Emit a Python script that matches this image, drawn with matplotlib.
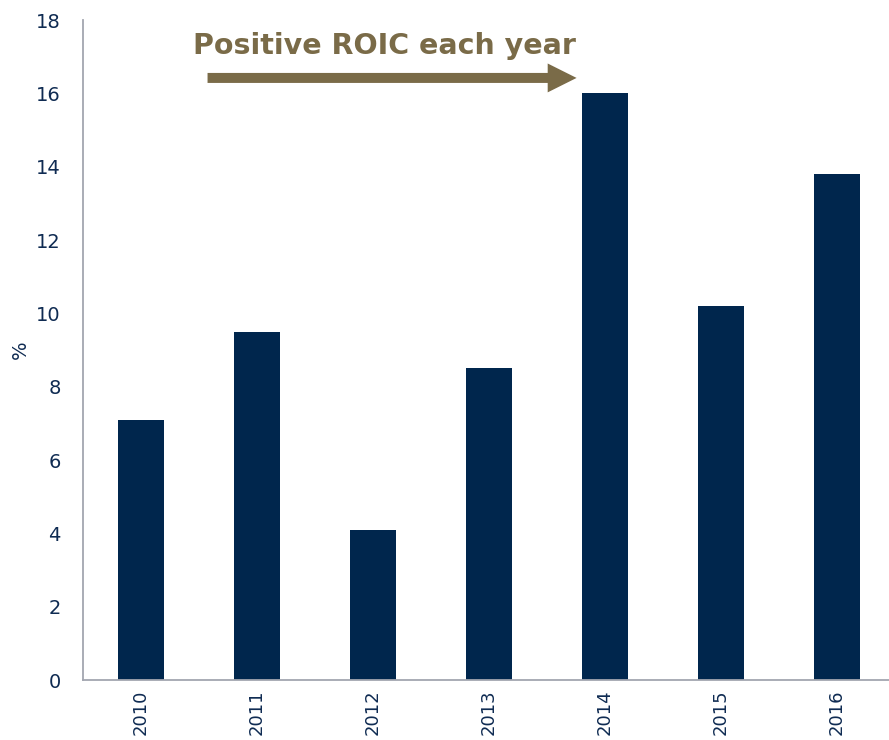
import matplotlib.pyplot as plt

years = ['2010', '2011', '2012', '2013', '2014', '2015', '2016']
roic = [7.1, 9.5, 4.1, 8.5, 16.0, 10.2, 13.8]
y_ticks = [0, 2, 4, 6, 8, 10, 12, 14, 16, 18]

navy = '#00264d'
text_col = '#0f2b52'
olive = '#7a6b48'

fig = plt.figure(figsize=(8.89, 7.40), dpi=100)
ax = fig.add_axes([83 / 889, 60 / 740, 1 - 83 / 889, 660 / 740])

x = range(len(years))
ax.bar(x, roic, width=0.4, color=navy, zorder=2)

ax.set_xlim(-0.5, 6.45)
ax.set_ylim(0, 18)
ax.set_yticks(y_ticks)
ax.set_yticklabels([str(t) for t in y_ticks], fontsize=14, color=text_col)
ax.set_xticks(list(x))
ax.set_xticklabels(years, rotation=90, fontsize=13, color=text_col)
ax.tick_params(axis='both', length=0)
ax.tick_params(axis='y', pad=16)
ax.tick_params(axis='x', pad=7)

for side in ['top', 'right']:
    ax.spines[side].set_visible(False)
for side in ['left', 'bottom']:
    ax.spines[side].set_color('#a3a6b0')
    ax.spines[side].set_linewidth(1.3)

ax.set_ylabel('%', fontsize=14, color=text_col)
ax.yaxis.set_label_coords(-0.066, 0.5)

# banner arrow over the first five years
ax.annotate('', xy=(3.78, 16.42), xytext=(0.55, 16.42),
            arrowprops=dict(arrowstyle='simple,head_length=1.3,head_width=1.3,tail_width=0.45',
                            color=olive, lw=0, mutation_scale=16))
ax.text(0.45, 17.3, 'Positive ROIC each year', fontsize=20.5, fontweight='bold',
        color=olive, ha='left', va='center')

fig.savefig('out.png', dpi=100)
